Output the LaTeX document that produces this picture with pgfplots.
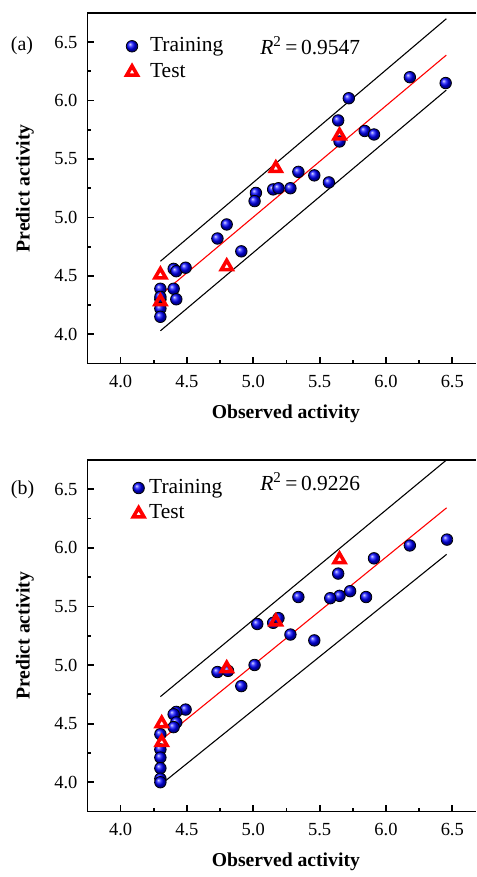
\documentclass[border=0pt]{standalone}
\usepackage{pgfplots}
\pgfplotsset{compat=1.18}
\usepackage{fontspec}
\setmainfont{Liberation Serif}
\begin{document}
\begin{tikzpicture}
\pgfplotsset{
  myaxis/.style={
    scale only axis,
    width=195.5pt, height=176.5pt,
    xmin=3.75, xmax=6.677, ymin=3.75, ymax=6.75,
    axis x line*=bottom, axis y line*=left,
    axis line style={-, line width=0.9pt},
    clip=false,
    tick align=inside,
    major tick length=3.5pt, minor tick length=2pt,
    every tick/.style={line width=0.9pt, black},
    xtick={4.0,4.5,5.0,5.5,6.0,6.5},
    ytick={4.0,4.5,5.0,5.5,6.0,6.5},
    minor tick num=1,
    /pgf/number format/.cd, fixed, fixed zerofill, precision=1, assume math mode=true,
    /pgfplots/.cd,
    tick label style={font=\fontsize{9.3}{10}\selectfont},
    xticklabel style={yshift=-2.5pt},
    yticklabel style={xshift=-1.5pt},
    xlabel={Observed activity},
    ylabel={Predict activity},
    label style={font=\fontsize{9.9}{11}\selectfont\bfseries},
    xlabel style={at={(axis description cs:0.511,-0.142)}, anchor=center},
    ylabel style={at={(axis description cs:-0.161,0.5)}, anchor=center},
    legend style={draw=none, fill=none, inner sep=0pt, row sep=1pt, column sep=5pt,
      font=\fontsize{10.8}{12}\selectfont,
      nodes={inner sep=1pt, text height=7.5pt, text depth=2.5pt}},
    legend cell align=left,
  },
  trainstyle/.style={only marks, mark=ball, mark size=2.9pt,
    every mark/.append style={ball color=blue, draw=none},
    legend image code/.code={\draw[mark repeat=2,mark phase=2,##1,/tikz/only marks] plot coordinates {(0cm,0cm) (0.18cm,0cm) (0.36cm,0cm)};}},
  teststyle/.style={only marks, mark=triangle, mark size=3.1pt,
    mark options={draw=red, fill=white, line width=1.8pt},
    legend image code/.code={\draw[mark repeat=2,mark phase=2,##1,/tikz/only marks] plot coordinates {(0cm,0cm) (0.18cm,0cm) (0.36cm,0cm)};}},
}
% ---------- panel (a)
\begin{axis}[myaxis, name=A, at={(0,0)}, anchor=north west,
  legend style={at={(rel axis cs:0.098,0.940)}, anchor=north west}]
\addplot[trainstyle] coordinates {
(6.18,6.20) (6.45,6.15) (5.72,6.02) (5.64,5.83) (5.65,5.65) (5.84,5.74) (5.91,5.71)
(5.34,5.39) (5.46,5.36) (5.57,5.30) (5.28,5.25) (5.15,5.24) (5.19,5.25) (5.02,5.21)
(5.01,5.14) (4.80,4.94) (4.73,4.82) (4.91,4.71) (4.40,4.56) (4.42,4.54) (4.49,4.57)
(4.30,4.39) (4.40,4.39) (4.42,4.30) (4.30,4.30) (4.30,4.22) (4.30,4.15) (4.30,4.32)};
\addlegendentry{Training}
\addplot[black, line width=0.55pt, forget plot] coordinates {(4.30,4.625) (6.455,6.70)};
\addplot[black, line width=0.55pt, forget plot] coordinates {(4.30,4.03) (6.455,6.09)};
\addplot[red, line width=0.55pt, forget plot] coordinates {(4.30,4.336) (6.455,6.389)};
\addplot[teststyle] coordinates {
(5.65,5.70) (5.17,5.42) (4.80,4.58) (4.30,4.51) (4.30,4.28)};
\addlegendentry{Test}
\draw[line width=0.9pt] (rel axis cs:0,1) -- (rel axis cs:1,1);
\node[anchor=west, font=\fontsize{10.8}{12}\selectfont] at (rel axis cs:0.427,0.9065) {\textit{R}\textsuperscript{2}\,=\,0.9547};
\node[anchor=west, font=\fontsize{10}{12}\selectfont] at (rel axis cs:0,0.9065) [xshift=-42pt] {(a)};
\end{axis}
% ---------- panel (b)
\begin{axis}[myaxis, name=B, at={(0,-225pt)}, anchor=north west, height=177pt,
  legend style={at={(rel axis cs:0.115,0.955)}, anchor=north west, column sep=1.2pt}]
\addplot[trainstyle] coordinates {
(6.18,6.02) (6.46,6.07) (5.91,5.91) (5.64,5.78) (5.73,5.63) (5.65,5.59) (5.58,5.57)
(5.85,5.58) (5.34,5.58) (5.03,5.35) (5.15,5.36) (5.19,5.40) (5.28,5.26) (5.46,5.21)
(5.01,5.00) (4.73,4.94) (4.81,4.95) (4.91,4.82) (4.49,4.62) (4.42,4.60) (4.40,4.58)
(4.42,4.51) (4.40,4.47) (4.30,4.41) (4.30,4.28) (4.30,4.21) (4.30,4.12) (4.30,4.03) (4.30,4.00)};
\addlegendentry{Training}
\addplot[black, line width=0.55pt, forget plot] coordinates {(4.30,4.73) (6.457,6.75)};
\addplot[black, line width=0.55pt, forget plot] coordinates {(4.30,3.977) (6.457,5.944)};
\addplot[red, line width=0.55pt, forget plot] coordinates {(4.30,4.355) (6.457,6.341)};
\addplot[teststyle] coordinates {
(5.65,5.90) (5.17,5.37) (4.80,4.97) (4.31,4.50) (4.31,4.34)};
\addlegendentry{Test}
\draw[line width=0.9pt] (rel axis cs:0,1) -- (rel axis cs:1,1);
\node[anchor=west, font=\fontsize{10.8}{12}\selectfont] at (rel axis cs:0.427,0.938) {\textit{R}\textsuperscript{2}\,=\,0.9226};
\node[anchor=west, font=\fontsize{10}{12}\selectfont] at (rel axis cs:0,0.915) [xshift=-42pt] {(b)};
\end{axis}
\path ([xshift=-44pt,yshift=6.5pt]A.north west) ([yshift=-30pt]B.south east);
\end{tikzpicture}
\end{document}
